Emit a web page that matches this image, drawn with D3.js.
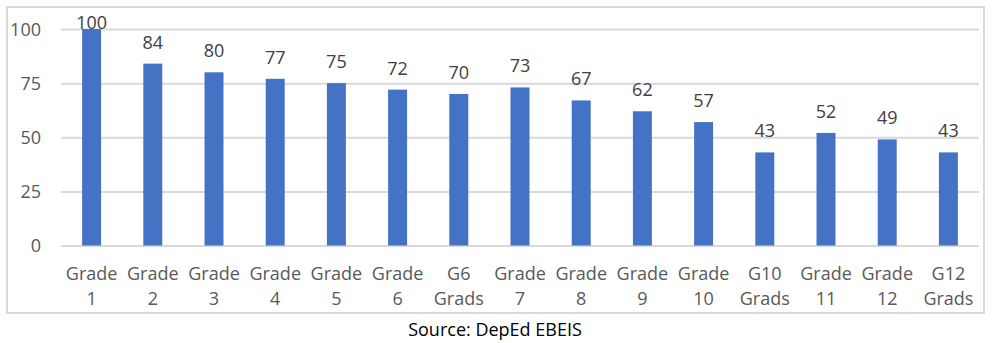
<!DOCTYPE html>
<html><head><meta charset="utf-8">
<script src="https://cdn.jsdelivr.net/npm/d3@7/dist/d3.min.js"></script>
<style>html,body{margin:0;padding:0;background:#fff;}svg{display:block;}</style>
</head><body><svg id="c" width="993" height="343"></svg>
<script>
const categories = [["Grade","1"],["Grade","2"],["Grade","3"],["Grade","4"],["Grade","5"],["Grade","6"],["G6","Grads"],["Grade","7"],["Grade","8"],["Grade","9"],["Grade","10"],["G10","Grads"],["Grade","11"],["Grade","12"],["G12","Grads"]];
const values = [100,84,80,77,75,72,70,73,67,62,57,43,52,49,43];
const yTicks = [0,25,50,75,100];
const sourceText = "Source: DepEd EBEIS";

const svg = d3.select("#c");
const font = "'Open Sans', 'Segoe UI', sans-serif";
svg.append("rect").attr("x",7).attr("y",7).attr("width",977).attr("height",306)
  .attr("fill","#fff").attr("stroke","#d9d9d9").attr("stroke-width",2);

const pLeft=61, pRight=979, pTop=29, pBottom=245.5;
const keys = categories.map((d,i)=>i);
const x = d3.scaleBand().domain(keys).range([pLeft,pRight]).paddingInner(0.69).paddingOuter(0.345);
const y = d3.scaleLinear().domain([0,100]).range([pBottom,pTop]);

const ya = svg.append("g").attr("transform",`translate(${pLeft},0)`)
  .call(d3.axisLeft(y).tickValues(yTicks).tickSize(-(pRight-pLeft)).tickPadding(20));
ya.select(".domain").remove();
ya.selectAll(".tick line").attr("stroke","#d9d9d9").attr("stroke-width",2);
ya.selectAll(".tick text").attr("fill","#595959").style("font-family",font).style("font-size","18px").attr("dy","0.35em");

svg.append("g").selectAll("rect").data(values).join("rect")
  .attr("x",(d,i)=>x(i)).attr("width",x.bandwidth())
  .attr("y",d=>y(d)).attr("height",d=>y(0)-y(d)).attr("fill","#4472c4");

svg.append("g").selectAll("text").data(values).join("text")
  .attr("x",(d,i)=>x(i)+x.bandwidth()/2)
  .attr("y",d=>Math.max(y(d)-15, 29))
  .attr("text-anchor","middle").attr("fill","#404040")
  .style("font-family",font).style("font-size","18px").text(d=>d);

const xa = svg.append("g").attr("transform",`translate(0,${pBottom})`)
  .call(d3.axisBottom(x).tickSize(0).tickFormat(""));
xa.select(".domain").remove();
xa.selectAll(".tick").each(function(i){
  const t = d3.select(this).append("text").attr("fill","#595959").attr("text-anchor","middle")
    .style("font-family",font).style("font-size","18px");
  t.append("tspan").attr("x",0).attr("y",34).text(categories[i][0]);
  t.append("tspan").attr("x",0).attr("y",59).text(categories[i][1]);
});

svg.append("text").attr("x",495).attr("y",336).attr("text-anchor","middle")
  .attr("fill","#000").style("font-family",font).style("font-size","18px").text(sourceText);
</script></body></html>
